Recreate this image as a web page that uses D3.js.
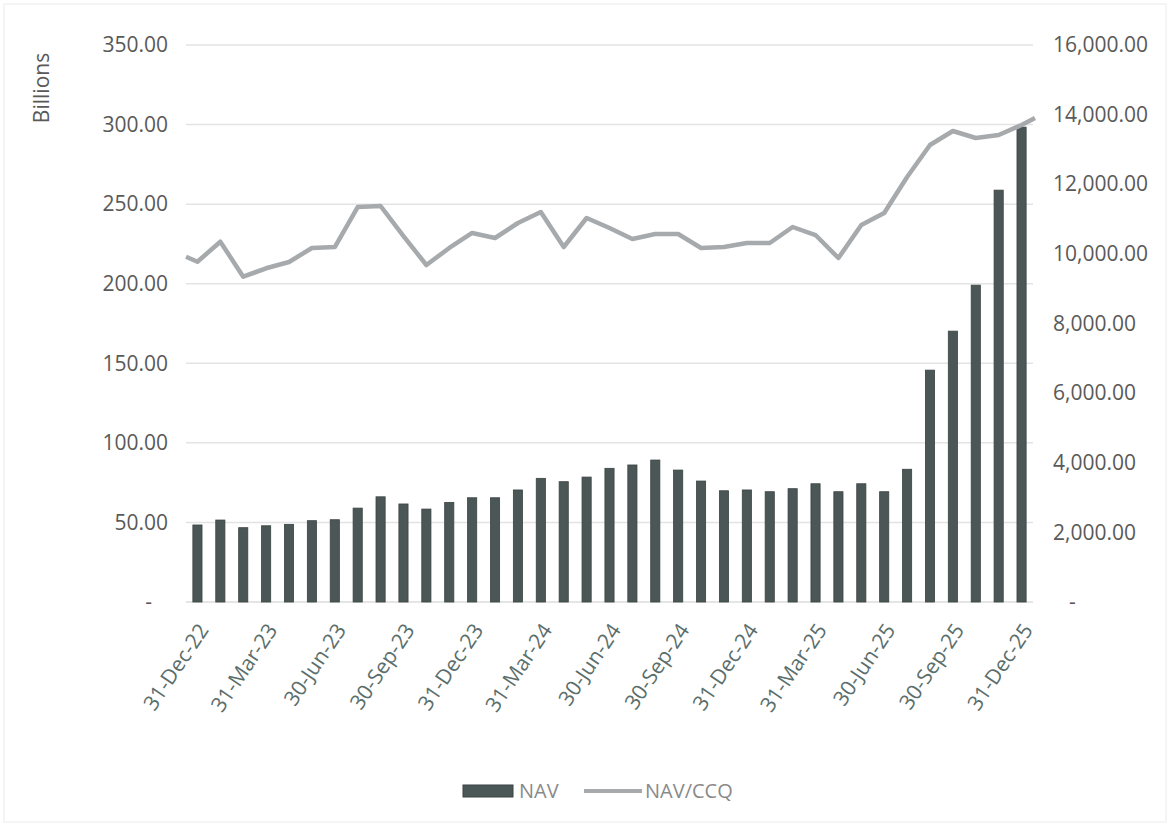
<!DOCTYPE html>
<html>
<head>
<meta charset="utf-8">
<script src="https://cdn.jsdelivr.net/npm/d3@7"></script>
<style>
  body { margin: 0; background: #fff; }
  svg { font-family: "Open Sans", sans-serif; }
</style>
</head>
<body>
<svg id="chart" width="1173" height="828"></svg>
<script>
// month-end dates, Dec-22 .. Dec-25
const months = [
  "31-Dec-22", "31-Jan-23", "28-Feb-23", "31-Mar-23", "30-Apr-23", "31-May-23",
  "30-Jun-23", "31-Jul-23", "31-Aug-23", "30-Sep-23", "31-Oct-23", "30-Nov-23",
  "31-Dec-23", "31-Jan-24", "29-Feb-24", "31-Mar-24", "30-Apr-24", "31-May-24",
  "30-Jun-24", "31-Jul-24", "31-Aug-24", "30-Sep-24", "31-Oct-24", "30-Nov-24",
  "31-Dec-24", "31-Jan-25", "28-Feb-25", "31-Mar-25", "30-Apr-25", "31-May-25",
  "30-Jun-25", "31-Jul-25", "31-Aug-25", "30-Sep-25", "31-Oct-25", "30-Nov-25",
  "31-Dec-25",
];

// NAV, billions (left axis)
const nav = [
  48.4, 51.5, 46.7, 47.9, 48.8, 51.1, 51.7, 59.0, 66.1, 61.6, 58.4, 62.6,
  65.5, 65.5, 70.4, 77.7, 75.6, 78.5, 84.0, 86.1, 89.2, 82.9, 76.0, 69.9,
  70.4, 69.3, 71.2, 74.3, 69.3, 74.3, 69.3, 83.4, 145.7, 170.2, 199.1, 258.8,
  298.4,
];

// NAV/CCQ (right axis)
const navCcq = [
  9775, 10350, 9344, 9586, 9767, 10169, 10197, 11346, 11375, 10513, 9680, 10169,
  10600, 10456, 10887, 11203, 10197, 11030, 10743, 10427, 10571, 10571, 10169, 10197,
  10312, 10312, 10772, 10542, 9881, 10829, 11174, 12208, 13127, 13530, 13329, 13415,
  13702,
];
// line values where it meets the left and right edge of the plot
const navCcqEdges = [9919, 13903];

const leftTicks = [0, 50, 100, 150, 200, 250, 300, 350];
const rightTicks = [0, 2000, 4000, 6000, 8000, 10000, 12000, 14000, 16000];

const svg = d3.select("#chart");
const plot = { left: 186, right: 1033, top: 45, bottom: 602 };

const x = d3.scaleBand()
  .domain(months)
  .range([plot.left, plot.right])
  .paddingInner(0.6)
  .paddingOuter(0.3);
const yLeft = d3.scaleLinear().domain([0, 350]).range([plot.bottom, plot.top]);
const yRight = d3.scaleLinear().domain([0, 16000]).range([plot.bottom, plot.top]);

const fmt = d3.format(",.2f");
const tickFmt = (v) => (v === 0 ? "-" : fmt(v));

// faint frame
svg.append("rect")
  .attr("x", 4).attr("y", 4).attr("width", 1162).attr("height", 818)
  .attr("fill", "none").attr("stroke", "#ececec");

// gridlines
svg.append("g")
  .selectAll("line")
  .data(leftTicks.slice(1))
  .join("line")
  .attr("x1", plot.left).attr("x2", plot.right)
  .attr("y1", (d) => yLeft(d)).attr("y2", (d) => yLeft(d))
  .attr("stroke", "#e3e3e3").attr("stroke-width", 1.5);

// baseline
svg.append("line")
  .attr("x1", plot.left).attr("x2", plot.right)
  .attr("y1", plot.bottom).attr("y2", plot.bottom)
  .attr("stroke", "#dcdcdc").attr("stroke-width", 1.5);

// left axis
const leftAxis = svg.append("g")
  .attr("transform", `translate(${plot.left - 18},0)`)
  .call(d3.axisLeft(yLeft).tickValues(leftTicks).tickFormat(tickFmt).tickSize(0).tickPadding(0));
leftAxis.select(".domain").remove();
leftAxis.selectAll("text")
  .attr("font-size", 21).attr("fill", "#595959")
  .attr("font-family", "Open Sans, sans-serif")
  .attr("dx", (d) => (d === 0 ? -16 : 0));

// right axis
const rightAxis = svg.append("g")
  .attr("transform", `translate(${plot.right + 20},0)`)
  .call(d3.axisRight(yRight).tickValues(rightTicks).tickFormat(tickFmt).tickSize(0).tickPadding(0));
rightAxis.select(".domain").remove();
rightAxis.selectAll("text")
  .attr("font-size", 21).attr("fill", "#595959")
  .attr("font-family", "Open Sans, sans-serif")
  .attr("dx", (d) => (d === 0 ? 16 : 0));

// axis title
svg.append("text")
  .attr("transform", "translate(49,88) rotate(-90)")
  .attr("text-anchor", "middle")
  .attr("font-size", 21).attr("fill", "#595959")
  .text("Billions");

// x axis labels, every quarter
svg.append("g")
  .selectAll("text")
  .data(months.filter((m, i) => i % 3 === 0))
  .join("text")
  .attr("transform", (m) => `translate(${x(m) + x.bandwidth() / 2 + 6},626) rotate(-56)`)
  .attr("text-anchor", "end")
  .attr("dy", "0.35em")
  .attr("font-size", 21)
  .attr("fill", "#5a6e6b")
  .text((m) => m);

// bars
svg.append("g")
  .selectAll("rect")
  .data(nav)
  .join("rect")
  .attr("x", (d, i) => x(months[i]))
  .attr("y", (d) => yLeft(d))
  .attr("width", x.bandwidth())
  .attr("height", (d) => yLeft(0) - yLeft(d))
  .attr("fill", "#4b5756")
  .attr("stroke", "#3b4342")
  .attr("stroke-width", 0.8);

// line
const linePoints = [[plot.left, navCcqEdges[0]]]
  .concat(navCcq.map((v, i) => [x(months[i]) + x.bandwidth() / 2, v]))
  .concat([[plot.right + 2, navCcqEdges[1]]]);

svg.append("path")
  .datum(linePoints)
  .attr("fill", "none")
  .attr("stroke", "#a7aaac")
  .attr("stroke-width", 4.5)
  .attr("stroke-linejoin", "round")
  .attr("d", d3.line().x((p) => p[0]).y((p) => yRight(p[1])));

// legend
const legend = svg.append("g").attr("transform", "translate(463,791)");
legend.append("rect")
  .attr("x", 0).attr("y", -6).attr("width", 50).attr("height", 12)
  .attr("fill", "#4b5756").attr("stroke", "#3b4342");
legend.append("text")
  .attr("x", 56).attr("dy", "0.35em")
  .attr("font-size", 20).attr("fill", "#8a8a8a")
  .text("NAV");
legend.append("line")
  .attr("x1", 121).attr("x2", 179)
  .attr("stroke", "#a7aaac").attr("stroke-width", 4);
legend.append("text")
  .attr("x", 182).attr("dy", "0.35em")
  .attr("font-size", 20).attr("fill", "#8a8a8a")
  .text("NAV/CCQ");
</script>
</body>
</html>
